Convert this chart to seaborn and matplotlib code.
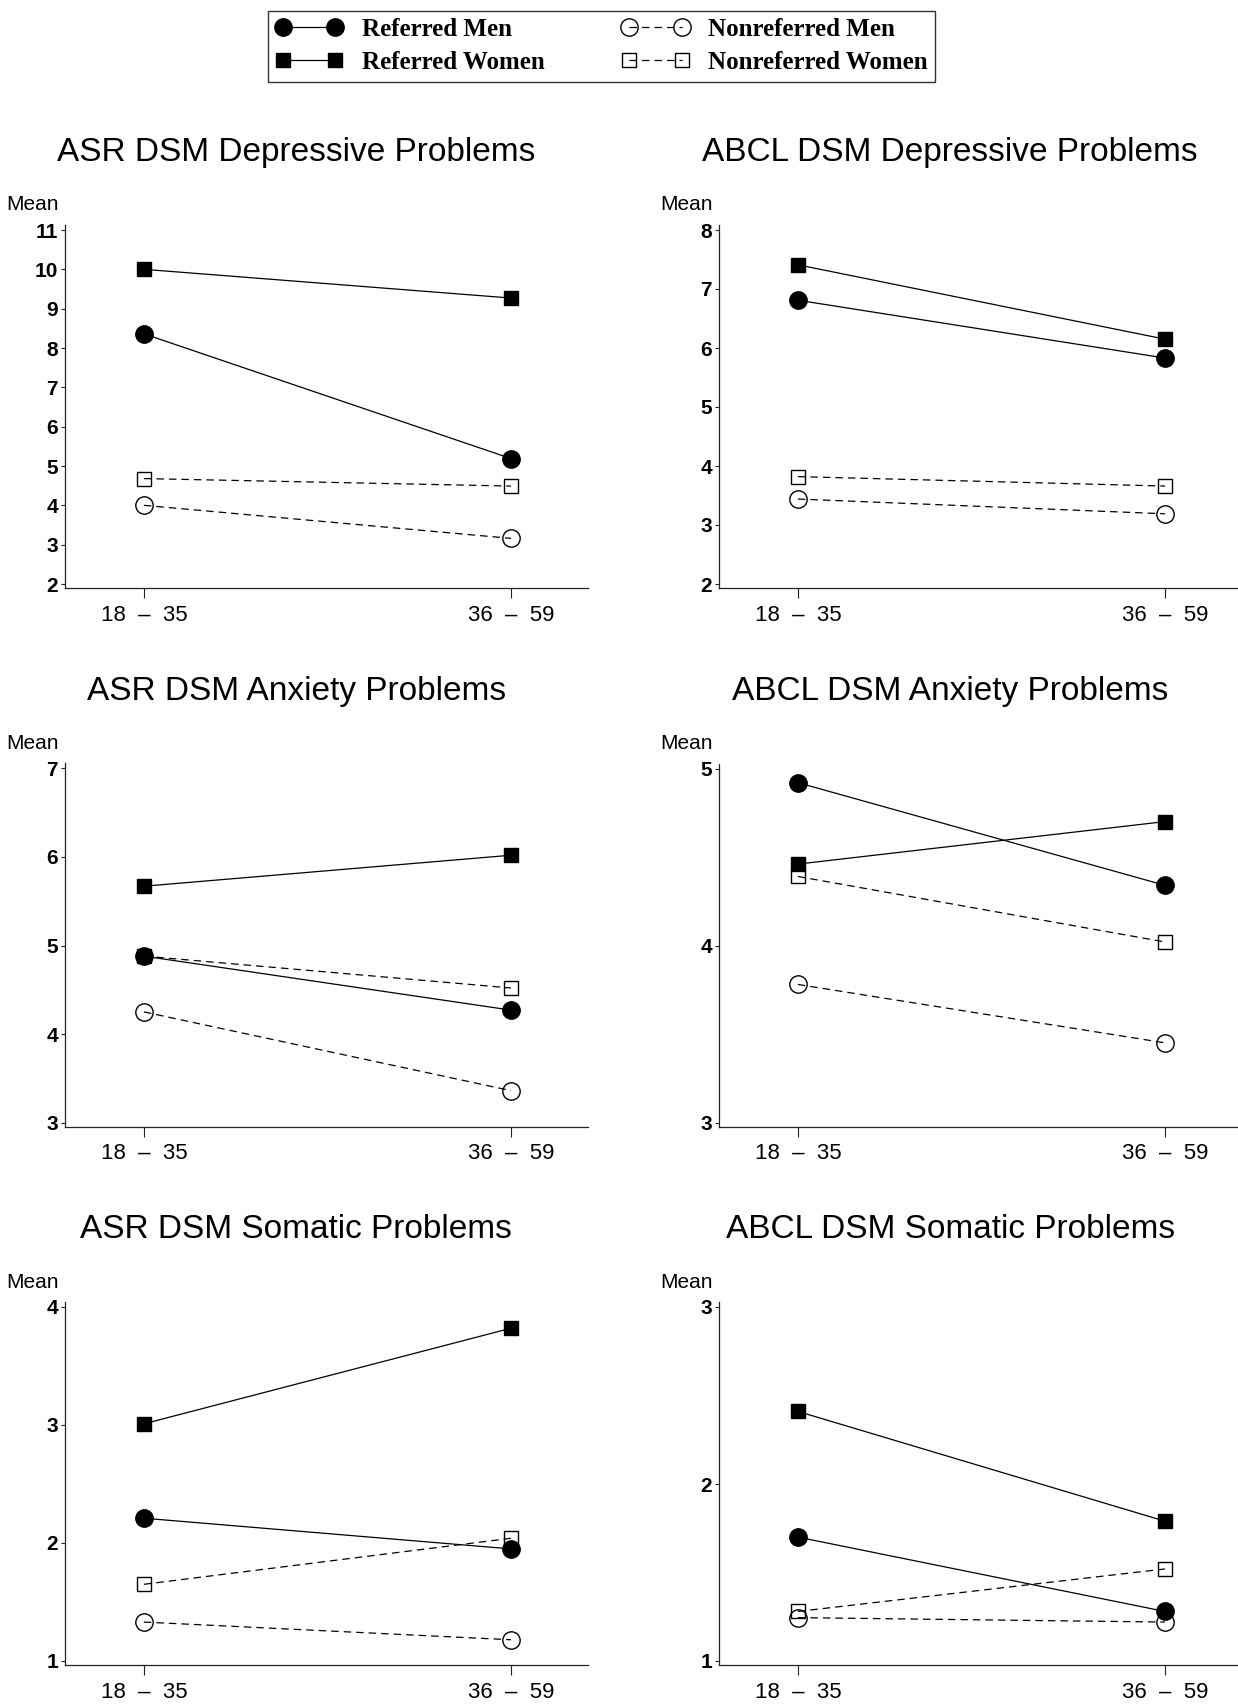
import matplotlib
matplotlib.use("Agg")
import matplotlib.pyplot as plt
from matplotlib import font_manager
import seaborn as sns

# age groups on the x axis
ages = ["18  \u2013  35", "36  \u2013  59"]
groups = ["Referred Men", "Referred Women", "Nonreferred Men", "Nonreferred Women"]

# means per group (order as in groups), [18-35, 36-59]
asr_dep = [[8.36, 5.19], [10.00, 9.27], [4.00, 3.16], [4.68, 4.49]]
abcl_dep = [[6.81, 5.83], [7.41, 6.15], [3.44, 3.19], [3.82, 3.66]]
asr_anx = [[4.88, 4.27], [5.67, 6.02], [4.25, 3.36], [4.88, 4.52]]
abcl_anx = [[4.92, 4.34], [4.46, 4.70], [3.78, 3.45], [4.39, 4.02]]
asr_som = [[2.21, 1.95], [3.01, 3.82], [1.33, 1.18], [1.65, 2.04]]
abcl_som = [[1.70, 1.28], [2.41, 1.79], [1.245, 1.22], [1.28, 1.52]]

titles = ["ASR DSM Depressive Problems", "ABCL DSM Depressive Problems",
          "ASR DSM Anxiety Problems", "ABCL DSM Anxiety Problems",
          "ASR DSM Somatic Problems", "ABCL DSM Somatic Problems"]
panels = [asr_dep, abcl_dep, asr_anx, abcl_anx, asr_som, abcl_som]
yranges = [(2, 11), (2, 8), (3, 7), (3, 5), (1, 4), (1, 3)]

sns.set_style("white")
names = {f.name for f in font_manager.fontManager.ttflist}
narrow = "Liberation Sans Narrow" if "Liberation Sans Narrow" in names else "Liberation Sans"
plt.rcParams["font.family"] = ["Liberation Sans", "DejaVu Sans"]
plt.rcParams["text.color"] = "black"
plt.rcParams["xtick.color"] = "black"
plt.rcParams["ytick.color"] = "black"

# marker / line style per group
dash = (0, (6, 4))
styles = {
    "Referred Men": dict(marker="o", markersize=12.5, mfc="black", linestyle="-"),
    "Referred Women": dict(marker="s", markersize=10.5, mfc="black", linestyle="-"),
    "Nonreferred Men": dict(marker="o", markersize=12.5, mfc="none", linestyle=dash),
    "Nonreferred Women": dict(marker="s", markersize=10.5, mfc="none", linestyle=dash),
}

W, H = 1238, 1704
fig = plt.figure(figsize=(W / 100, H / 100), dpi=100)
col_x = [65, 719]
ax_w = 523
row_top = [230, 768.5, 1307]
span = 354

handles = None
for i, (title, data, (lo, hi)) in enumerate(zip(titles, panels, yranges)):
    r, c = divmod(i, 2)
    top = row_top[r] - 5
    bot = row_top[r] + span + 4
    ax = fig.add_axes([col_x[c] / W, 1 - bot / H, ax_w / W, (bot - top) / H])
    for g, vals in zip(groups, data):
        sns.lineplot(x=ages, y=vals, ax=ax, color="black", lw=0.9,
                     mec="black", mew=1.0, **styles[g])
    pu = span / (hi - lo)
    ax.set_ylim(lo - 4 / pu, hi + 5 / pu)
    ax.set_xlim(-0.215, 1.21)
    ax.set_yticks(range(lo, hi + 1))
    ax.set_xlabel("")
    ax.set_ylabel("")
    sns.despine(ax=ax)
    for s in ["left", "bottom"]:
        ax.spines[s].set_color("#222222")
        ax.spines[s].set_linewidth(0.9)
    ax.tick_params(axis="y", length=3, width=0.8, pad=2, left=True, color="#222222")
    ax.tick_params(axis="x", length=7, width=0.8, pad=5, bottom=True, color="#222222")
    for t in ax.get_yticklabels():
        t.set_fontfamily(narrow)
        t.set_fontweight("bold")
        t.set_fontsize(15)
    for t in ax.get_xticklabels():
        t.set_fontsize(16)
    fig.text((col_x[c] + ax_w * 0.442) / W, 1 - (row_top[r] - 77) / H, title,
             ha="center", va="center", fontsize=24)
    fig.text((col_x[c] - 6) / W, 1 - (row_top[r] - 25) / H, "Mean",
             ha="right", va="center", fontsize=15, family=narrow)
    if handles is None:
        handles = list(ax.lines[:4])

leg = fig.legend(handles, groups, ncol=2, loc="center",
                 bbox_to_anchor=(601.5 / W, 1 - 46 / H), frameon=True,
                 fancybox=False, edgecolor="black", numpoints=2,
                 handlelength=2.7, columnspacing=3.1, handletextpad=0.75,
                 borderpad=0.3, labelspacing=0.4,
                 prop={"family": "Liberation Serif", "weight": "bold", "size": 18})
leg.get_frame().set_linewidth(1.0)

fig.savefig("out.png", dpi=100)
